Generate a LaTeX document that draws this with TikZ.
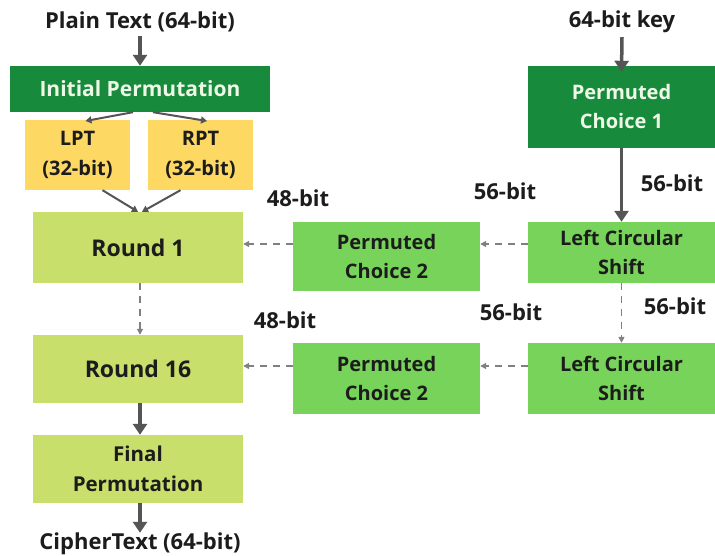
\documentclass[tikz,border=0pt]{standalone}
\usepackage{fontspec}
\setmainfont{Open Sans}
\usetikzlibrary{arrows.meta}
\definecolor{ipgreen}{HTML}{178A3C}
\definecolor{keygreen}{HTML}{78D35B}
\definecolor{roundgreen}{HTML}{C8DF6C}
\definecolor{halfyellow}{HTML}{FDD862}
\definecolor{inkdark}{HTML}{1C1C1C}
\definecolor{inklight}{HTML}{EEF8E6}
\definecolor{wire}{HTML}{555555}
\definecolor{dashwire}{HTML}{808080}
\begin{document}
\begin{tikzpicture}[x=1pt,y=-1pt,
  blk/.style={rectangle, draw=none, inner sep=0pt, align=center,
    font=\bfseries\fontsize{20}{29}\selectfont, text=inkdark},
  darkblk/.style={blk, fill=ipgreen, text=inklight},
  keyblk/.style={blk, fill=keygreen, minimum width=187pt},
  roundblk/.style={blk, fill=roundgreen, minimum width=210pt, minimum height=68pt},
  halfblk/.style={blk, fill=halfyellow, minimum width=105pt, minimum height=70pt,
    font=\bfseries\fontsize{20}{30}\selectfont},
  caption/.style={inner sep=0pt, font=\bfseries\fontsize{22}{26}\selectfont, text=inkdark},
  bitlabel/.style={inner sep=0pt, font=\bfseries\fontsize{22}{26}\selectfont, text=inkdark},
  heavyarrow/.style={draw=wire, line width=3.5pt, -{Triangle[width=14pt,length=11pt]}},
  lightarrow/.style={draw=wire, line width=2pt, -{Triangle[width=7pt,length=6pt]}},
  dasharrow/.style={draw=dashwire, line width=1.8pt, dash pattern=on 7pt off 6pt,
    -{Triangle[width=6pt,length=6pt]}}
]
\useasboundingbox[fill=white] (0,0) rectangle (715,556);

% ---- data path ----
\node[caption] (plain) at (140,22) {Plain Text (64-bit)};
\node[darkblk, minimum width=260pt, minimum height=46pt, font=\bfseries\fontsize{21}{26}\selectfont] (ip) at (140,89) {Initial Permutation};
\node[halfblk] (lpt) at (77.5,155) {LPT\\(32-bit)};
\node[halfblk] (rpt) at (200.5,155) {RPT\\(32-bit)};
\node[roundblk, minimum height=71pt, font=\bfseries\fontsize{23}{28}\selectfont] (r1) at (138,247.5) {Round 1};
\node[roundblk, font=\bfseries\fontsize{23}{28}\selectfont] (r16) at (138,369) {Round 16};
\node[roundblk, font=\bfseries\fontsize{20.5}{30}\selectfont] (fp) at (138,469) {Final\\Permutation};
\node[caption] (cipher) at (140,544) {CipherText (64-bit)};

% ---- key schedule ----
\node[caption] (key) at (622,22) {64-bit key};
\node[darkblk, minimum width=187pt, minimum height=82pt] (pc1) at (621.5,107) {Permuted\\Choice 1};
\node[keyblk, minimum height=61pt] (lcs1) at (621.5,252.5) {Left Circular\\Shift};
\node[keyblk, minimum height=68pt] (pc2a) at (386.5,256.5) {Permuted\\Choice 2};
\node[keyblk, minimum height=71pt] (lcs2) at (621.5,378.5) {Left Circular\\Shift};
\node[keyblk, minimum height=71pt] (pc2b) at (386.5,378.5) {Permuted\\Choice 2};

% ---- bit-width labels ----
\node[bitlabel] at (298,198) {48-bit};
\node[bitlabel] at (505,191) {56-bit};
\node[bitlabel] at (672,183) {56-bit};
\node[bitlabel] at (285,320) {48-bit};
\node[bitlabel] at (511,312) {56-bit};
\node[bitlabel] at (675,306) {56-bit};

% ---- connectors ----
\draw[heavyarrow] (plain.south) ++(0,4) -- (ip.north);
\draw[lightarrow] ([xshift=-7pt]ip.south) -- ([xshift=8pt,yshift=34pt]lpt.center);
\draw[lightarrow] ([xshift=13pt]ip.south) -- ([xshift=6.5pt,yshift=34pt]rpt.center);
\draw[lightarrow] ([xshift=25pt]lpt.south) -- ([xshift=0pt]r1.north);
\draw[lightarrow] ([xshift=-20pt]rpt.south) -- ([xshift=4pt]r1.north);
\draw[dasharrow] (r1.south -| 140,0) -- (r16.north -| 140,0);
\draw[heavyarrow] (r16.south -| 140,0) -- (fp.north -| 140,0);
\draw[heavyarrow] (fp.south -| 140,0) -- (cipher.north -| 140,0);

\draw[heavyarrow] (key.south) ++(0,4) -- ([yshift=-6pt]pc1.north);
\draw[heavyarrow] (pc1.south) -- (lcs1.north);
\draw[dasharrow] (lcs1.west |- 0,244) -- (pc2a.east |- 0,244);
\draw[dasharrow] (pc2a.west |- 0,244) -- (r1.east |- 0,244);
\draw[dasharrow] (lcs1.south) -- (lcs2.north);
\draw[dasharrow] (lcs2.west |- 0,366) -- (pc2b.east |- 0,366);
\draw[dasharrow] (pc2b.west |- 0,366) -- (r16.east |- 0,366);
\end{tikzpicture}
\end{document}
